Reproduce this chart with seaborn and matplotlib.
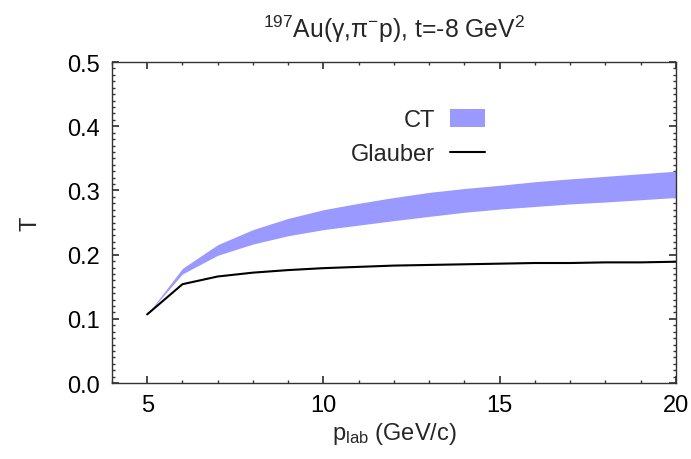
import matplotlib
matplotlib.use("Agg")
import matplotlib.pyplot as plt
from matplotlib.patches import Patch
from matplotlib.lines import Line2D
from matplotlib.ticker import MultipleLocator, FormatStrFormatter
import seaborn as sns
import pandas as pd

p_lab = [5, 6, 7, 8, 9, 10, 11, 12, 13, 14, 15, 16, 17, 18, 19, 20]
ct_low = [0.107, 0.170, 0.199, 0.2165, 0.2295, 0.239, 0.246, 0.253, 0.2596, 0.266,
          0.271, 0.275, 0.279, 0.282, 0.2855, 0.289]
ct_high = [0.107, 0.1786, 0.2155, 0.239, 0.2565, 0.270, 0.280, 0.289, 0.297, 0.303,
           0.308, 0.3136, 0.318, 0.322, 0.326, 0.330]
glauber = [0.107, 0.154, 0.166, 0.172, 0.176, 0.179, 0.181, 0.183, 0.184, 0.185,
           0.186, 0.187, 0.187, 0.188, 0.188, 0.189]

sns.set_theme(style="ticks")
plt.rcParams['font.family'] = ['Liberation Sans', 'DejaVu Sans']
plt.rcParams['mathtext.fontset'] = 'custom'
plt.rcParams['mathtext.rm'] = 'Liberation Sans'
plt.rcParams['mathtext.it'] = 'Liberation Sans:italic'

FS = 17
BAND = '#9999ff'

fig = plt.figure(figsize=(6.91, 4.60), dpi=100)
ax = fig.add_axes([0.162, 0.165, 0.816, 0.698])

ax.fill_between(p_lab, ct_low, ct_high, color=BAND, linewidth=0)
df = pd.DataFrame({'p': p_lab, 'T': glauber})
sns.lineplot(data=df, x='p', y='T', ax=ax, color='black', linewidth=1.5)

ax.set_xlim(4, 20)
ax.set_ylim(0, 0.5)
ax.xaxis.set_major_locator(MultipleLocator(5))
ax.xaxis.set_minor_locator(MultipleLocator(1))
ax.yaxis.set_major_locator(MultipleLocator(0.1))
ax.yaxis.set_minor_locator(MultipleLocator(0.01))
ax.yaxis.set_major_formatter(FormatStrFormatter('%.1f'))
ax.tick_params(which='both', direction='in', top=True, right=True, labelsize=FS,
               color='#333333', labelcolor='black')
ax.tick_params(which='major', length=5)
ax.tick_params(which='minor', length=2.5)
ax.tick_params(axis='x', which='major', pad=8)
ax.tick_params(axis='y', which='major', pad=9)
for s in ax.spines.values():
    s.set_linewidth(1.0)
    s.set_color('#333333')

ax.set_xlabel(r'p$_{\mathrm{lab}}$ (GeV/c)', fontsize=FS, labelpad=3)
ax.set_ylabel('T', fontsize=FS, labelpad=18)
ax.set_title(r'$^{197}$Au(γ,π$^{-}$p), t=-8 GeV$^{2}$', fontsize=17.8, pad=18)

handles = [Patch(facecolor=BAND, edgecolor='none'),
           Line2D([0], [0], color='black', linewidth=1.5)]
ax.legend(handles, ['CT', 'Glauber'], loc='upper right', bbox_to_anchor=(0.70, 0.92),
          frameon=False, markerfirst=False, fontsize=FS, handlelength=1.5,
          handleheight=0.8, handletextpad=0.65, labelspacing=0.5)

fig.savefig('out.png', dpi=100)
